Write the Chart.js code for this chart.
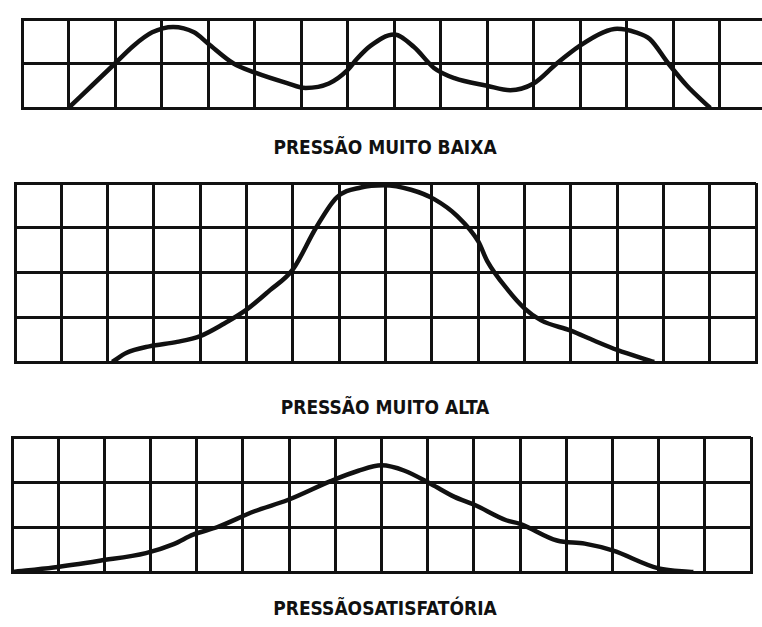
<!DOCTYPE html>
<html lang="pt">
<head>
    <meta charset="UTF-8">
    <title>Pressão</title>
    <script src="https://cdn.jsdelivr.net/npm/chart.js"></script>
    <style>
        html, body { margin: 0; padding: 0; background: #fff; }
        body { width: 762px; height: 627px; position: relative; overflow: hidden; }
        canvas { position: absolute; }
        .cap {
            position: absolute; left: 0; width: 770px; text-align: center;
            font-family: "DejaVu Sans Condensed", "DejaVu Sans", sans-serif;
            font-size: 19px; font-weight: bold; color: #111;
        }
    </style>
</head>
<body>
<canvas id="c1" width="750" height="95" style="left:19px; top:16px"></canvas>
<div class="cap" id="t1" style="top:136px"></div>
<canvas id="c2" width="747" height="185" style="left:12px; top:180px"></canvas>
<div class="cap" id="t2" style="top:396px"></div>
<canvas id="c3" width="745" height="141" style="left:9px; top:434px"></canvas>
<div class="cap" id="t3" style="top:597px"></div>

<script>
    // captions
    const captions = ['PRESSÃO MUITO BAIXA', 'PRESSÃO MUITO ALTA', 'PRESSÃOSATISFATÓRIA'];

    // grid size of each panel (columns, rows)
    const gridCols = [16, 16, 16];
    const gridRows = [2, 4, 3];

    // pressão muito baixa (x in grid columns, y in grid rows)
    const baixaX = [1, 1.5, 2, 2.4, 2.8, 3.25, 3.7, 4, 4.55, 5, 5.7, 6.1, 6.6, 7, 7.2, 7.5, 8, 8.43, 8.86, 9.3, 10, 10.5, 11, 11.5, 12, 12.5, 12.8, 13.2, 13.5, 13.9, 14.3, 14.8];
    const baixaY = [0, 0.5, 1.0, 1.4, 1.7, 1.82, 1.7, 1.45, 1.0, 0.8, 0.56, 0.45, 0.55, 0.85, 1.1, 1.4, 1.65, 1.37, 0.9, 0.67, 0.5, 0.4, 0.55, 1.0, 1.4, 1.7, 1.78, 1.7, 1.55, 1.0, 0.5, 0];

    // pressão muito alta
    const altaX = [2.1, 2.4, 2.9, 3.5, 4, 4.5, 5, 5.5, 6, 6.5, 6.95, 7.47, 7.97, 8.55, 9.05, 9.55, 10, 10.2, 10.65, 11, 11.36, 12, 12.5, 13, 13.8];
    const altaY = [0, 0.2, 0.35, 0.45, 0.58, 0.85, 1.17, 1.6, 2.07, 3.0, 3.68, 3.9, 3.95, 3.85, 3.64, 3.26, 2.7, 2.25, 1.6, 1.2, 0.93, 0.7, 0.48, 0.27, 0];

    // pressão satisfatória
    const satisfX = [0, 0.9, 1.9, 2.9, 3.5, 3.92, 4.45, 5.25, 5.97, 6.9, 7.5, 8, 8.5, 9.08, 9.58, 10, 10.7, 11, 11.8, 12.4, 13, 14, 14.75];
    const satisfY = [0, 0.1, 0.25, 0.42, 0.62, 0.83, 1.0, 1.35, 1.6, 2.02, 2.25, 2.37, 2.25, 1.95, 1.67, 1.5, 1.15, 1.07, 0.7, 0.63, 0.48, 0.08, 0];

    function gridScale(max) {
        return {
            type: 'linear', min: 0, max: max,
            ticks: { display: false, stepSize: 1 },
            grid: { color: '#111', lineWidth: 3, drawTicks: false },
            border: { display: true, color: '#111', width: 3 }
        };
    }

    function makePanel(id, xs, ys, cols, rows) {
        const pts = xs.map((x, i) => ({ x: x, y: ys[i] }));
        return new Chart(document.getElementById(id).getContext('2d'), {
            type: 'line',
            data: { datasets: [{ data: pts, borderColor: '#111', borderWidth: 4.5, pointRadius: 0, cubicInterpolationMode: 'monotone', fill: false }] },
            options: {
                responsive: false, animation: false,
                layout: { padding: 3 },
                plugins: { legend: { display: false }, tooltip: { enabled: false } },
                scales: { x: gridScale(cols), y: gridScale(rows) }
            }
        });
    }

    makePanel('c1', baixaX, baixaY, gridCols[0], gridRows[0]);
    makePanel('c2', altaX, altaY, gridCols[1], gridRows[1]);
    makePanel('c3', satisfX, satisfY, gridCols[2], gridRows[2]);

    document.getElementById('t1').textContent = captions[0];
    document.getElementById('t2').textContent = captions[1];
    document.getElementById('t3').textContent = captions[2];
</script>
</body>
</html>
